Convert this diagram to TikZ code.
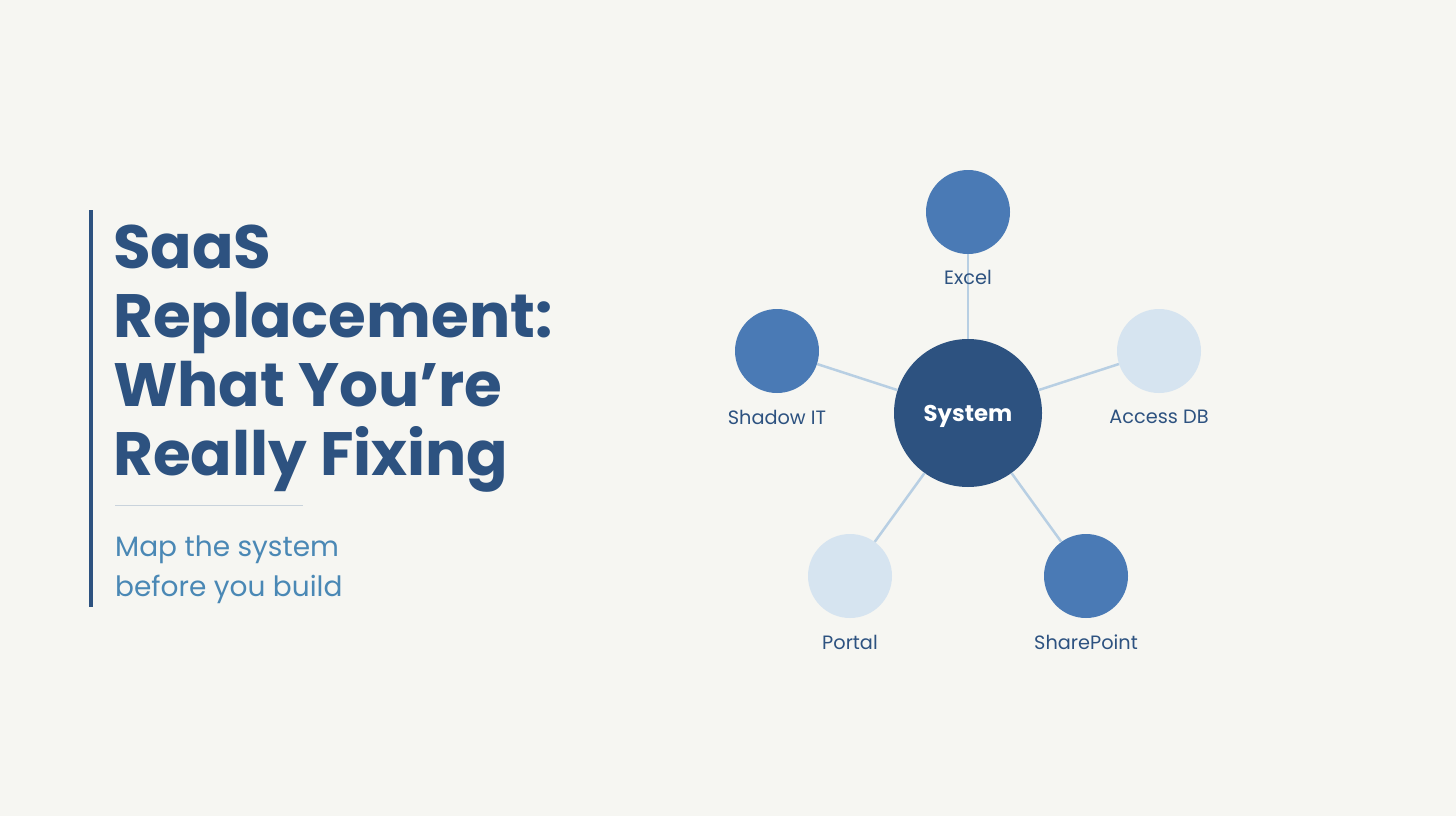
\documentclass[tikz,border=0pt]{standalone}
\usepackage{fontspec}
\setmainfont{Poppins}
\definecolor{bg}{HTML}{F6F6F2}
\definecolor{navy}{HTML}{2D5280}
\definecolor{midblue}{HTML}{4A7AB5}
\definecolor{paleblue}{HTML}{D6E4F0}
\definecolor{edgeblue}{HTML}{B8CFE3}
\definecolor{subblue}{HTML}{4A88B5}
\definecolor{rulegray}{HTML}{C9D3DC}
\tikzset{
  hub/.style={circle, fill=navy, minimum size=148pt, inner sep=0pt, text=white, text height=19pt, text depth=2pt, font=\fontsize{22.8}{26}\selectfont\bfseries},
  darknode/.style={circle, fill=midblue, minimum size=84pt, inner sep=0pt},
  lightnode/.style={circle, fill=paleblue, minimum size=84pt, inner sep=0pt},
  lbl/.style={text=navy, font=\fontsize{19.3}{22}\selectfont, inner sep=0pt},
  link/.style={draw=edgeblue, line width=2.5pt},
  titleline/.style={anchor=base west, inner sep=0pt, text=navy, font=\fontsize{61.2}{69}\selectfont\bfseries},
  subline/.style={anchor=base west, inner sep=0pt, text=subblue, font=\fontsize{28}{40}\selectfont},
}
\begin{document}
\begin{tikzpicture}[x=1pt, y=-1pt]
\fill[bg] (0,0) rectangle (1456,816);
\useasboundingbox (0,0) rectangle (1456,816);

% left accent bar and divider
\draw[navy, line width=4pt] (91,210) -- (91,607);
\draw[rulegray, line width=1pt] (115,505) -- (303,505);

% title
\node[titleline] (t1) at (113,268) {SaaS};
\node[titleline] (t2) at (113,337) {Replacement:};
\node[titleline] (t3) at (113,406) {What You’re};
\node[titleline] (t4) at (113,475) {Really Fixing};
\node[subline] (s1) at (115,556) {Map the system};
\node[subline] (s2) at (115,596) {before you build};

% hub and spokes
\node[hub] (sys) at (968,413) {System};
\node[darknode] (excel) at (968,212) {};
\node[darknode] (shadow) at (777,351) {};
\node[lightnode] (access) at (1159,351) {};
\node[lightnode] (portal) at (850,576) {};
\node[darknode] (share) at (1086,576) {};

\foreach \n in {excel,shadow,access,portal,share}
  \draw[link] (sys) -- (\n);

\node[lbl] (lexcel) at (968,277) {Excel};
\node[lbl] (lshadow) at (777,417) {Shadow IT};
\node[lbl] (laccess) at (1159,417) {Access DB};
\node[lbl] (lportal) at (850,642) {Portal};
\node[lbl] (lshare) at (1086,642) {SharePoint};
\end{tikzpicture}
\end{document}
